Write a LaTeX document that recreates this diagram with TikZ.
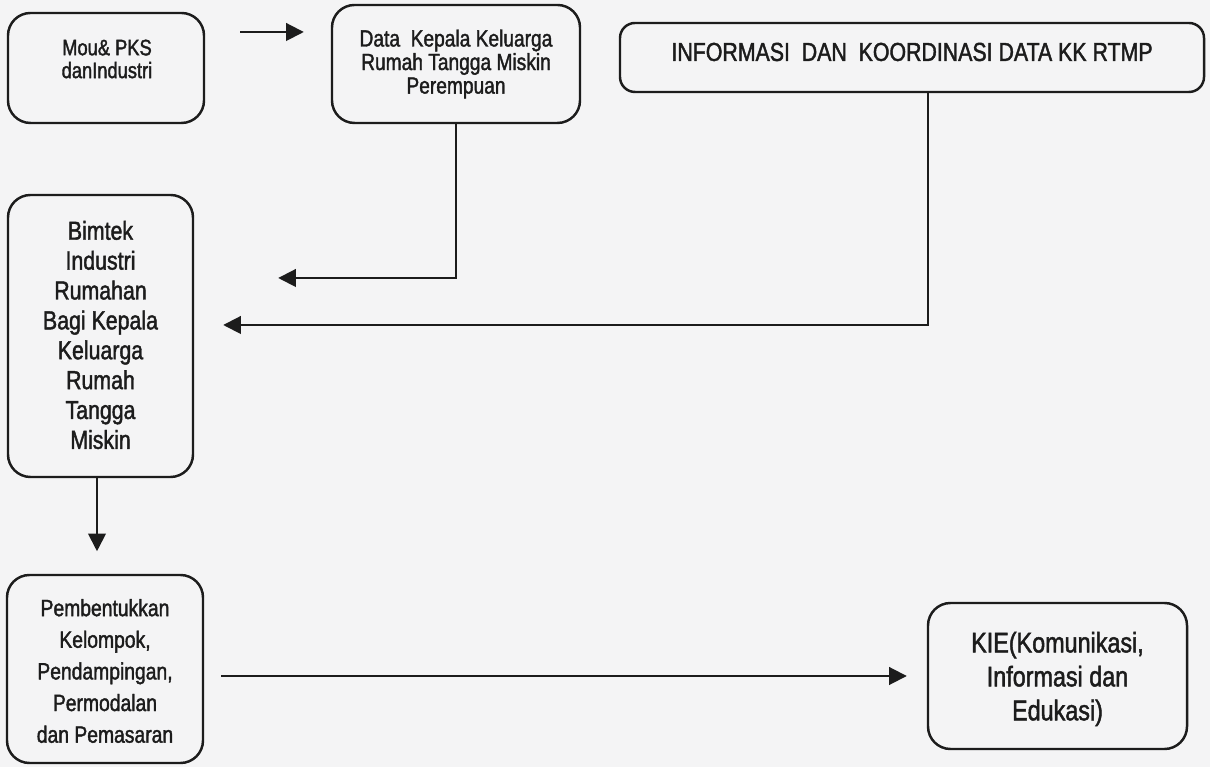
\documentclass[tikz,border=0pt]{standalone}
\usepackage{fontspec}
\setmainfont{Liberation Sans}[FakeStretch=0.82,FakeBold=1.6]
\usetikzlibrary{arrows.meta}
\definecolor{paper}{RGB}{244,244,245}
\definecolor{ink}{RGB}{28,28,28}
\tikzset{bx/.style={draw=ink, line width=1.4pt, rounded corners=0.45cm, inner sep=0pt},
         tx/.style={align=center, text=ink, inner sep=0pt},
         arr/.style={draw=ink, line width=1.1pt, -{Triangle[length=10pt,width=10pt]}}}

\begin{document}
\begin{tikzpicture}

  \fill[paper] (0,0) rectangle (24.2,15.34);
  \useasboundingbox (0,0) rectangle (24.2,15.34);

  % ---------- top row ----------
  \node[bx, minimum width=3.92cm, minimum height=2.2cm] (mou) at (2.12,13.98){};
  \node[tx, font=\fontsize{12.7}{13}\selectfont] (mout) at (2.14,14.16){Mou\& PKS\\danIndustri};

  \node[bx, minimum width=4.96cm, minimum height=2.36cm] (data) at (9.12,14.06){};
  \node[tx, font=\fontsize{13.3}{13.4}\selectfont] (datat) at (9.12,14.06)
        {Data\ \ Kepala Keluarga\\Rumah Tangga Miskin\\Perempuan};

  \node[bx, rounded corners=0.3cm, minimum width=11.68cm, minimum height=1.38cm] (info) at (18.24,14.19){};
  \node[tx, font=\fontsize{14.8}{16}\selectfont] (infot) at (18.24,14.3)
        {INFORMASI\ \ DAN\ \ KOORDINASI DATA KK RTMP};

  % ---------- left column ----------
  \node[bx, minimum width=3.7cm, minimum height=5.64cm] (bimtek) at (2.01,8.62){};
  \node[tx, font=\fontsize{14.8}{17}\selectfont] (bimtekt) at (2.01,8.64)
        {Bimtek\\Industri\\Rumahan\\Bagi Kepala\\Keluarga\\Rumah\\Tangga\\Miskin};

  \node[bx, minimum width=3.92cm, minimum height=3.76cm] (kel) at (2.1,1.96){};
  \node[tx, font=\fontsize{13.4}{18}\selectfont] (kelt) at (2.1,1.92)
        {Pembentukkan\\Kelompok,\\Pendampingan,\\Permodalan\\dan Pemasaran};

  \node[bx, minimum width=5.18cm, minimum height=2.92cm] (kie) at (21.15,1.82){};
  \node[tx, font=\fontsize{16.2}{19.3}\selectfont] (kiet) at (21.15,1.76)
        {KIE(Komunikasi,\\Informasi dan\\Edukasi)};

  % ---------- arrows ----------
  \draw[arr, shorten <=0.7cm, shorten >=0.54cm] ([yshift=0.72cm]mou.east) -- ([yshift=0.64cm]data.west);
  \draw[arr] (data.south) |- ([xshift=1.68cm,yshift=1.16cm]bimtek.east);
  \draw[arr] ([xshift=0.32cm]info.south) |- ([xshift=0.58cm,yshift=0.22cm]bimtek.east);
  \draw[arr] ([xshift=-0.07cm]bimtek.south) -- ++(0,-1.46);
  \draw[arr, shorten <=0.34cm, shorten >=0.4cm] (kie.west -| kel.east) -- (kie.west);

\end{tikzpicture}
\end{document}
